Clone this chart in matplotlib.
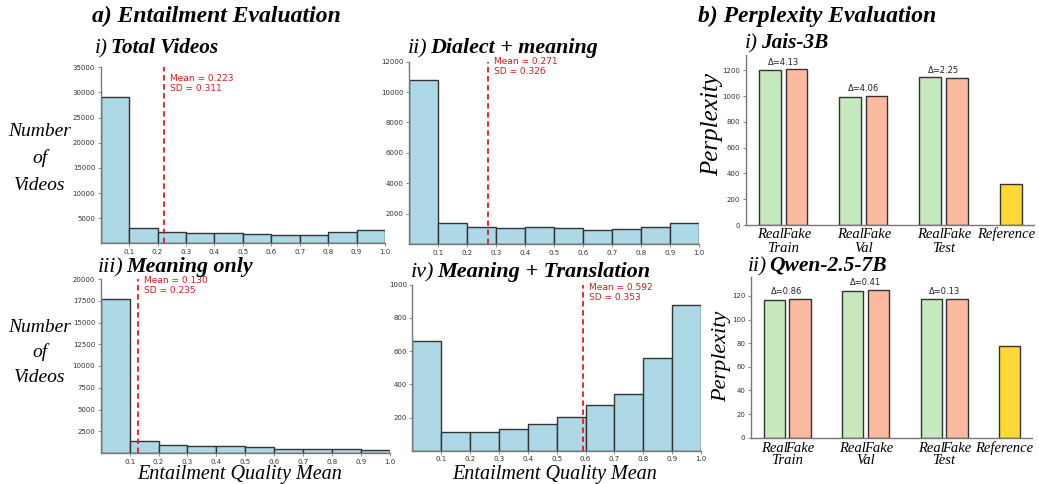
import matplotlib
matplotlib.use("Agg")
import matplotlib.pyplot as plt
import numpy as np
from matplotlib.transforms import blended_transform_factory

W, H = 1039, 484
fig = plt.figure(figsize=(W / 100, H / 100), dpi=100)

SERIF = "Liberation Serif"

# ---------------- data ----------------
bin_edges = [0.0, 0.1, 0.2, 0.3, 0.4, 0.5, 0.6, 0.7, 0.8, 0.9, 1.0]
total_counts = [29170, 3010, 2220, 2020, 2020, 1890, 1690, 1750, 2220, 2680]
dialect_counts = [10770, 1360, 1096, 1030, 1096, 1030, 920, 965, 1118, 1360]
meaning_counts = [17680, 1416, 918, 842, 765, 650, 459, 421, 421, 344]
translation_counts = [658, 114, 110, 128, 158, 206, 278, 339, 556, 877]
hist_means = [0.223, 0.271, 0.130, 0.592]
hist_sds = [0.311, 0.326, 0.235, 0.353]
hist_prefixes = ["i)", "ii)", "iii)", "iv)"]
hist_titles = ["Total Videos", "Dialect + meaning", "Meaning only", "Meaning + Translation"]

splits = ["Train", "Val", "Test"]
jais_real = [1205, 996, 1146]
jais_fake = [1209, 1000, 1143]
jais_ref = 321
jais_delta = ["4.13", "4.06", "2.25"]
qwen_real = [116.3, 124.5, 117.2]
qwen_fake = [117.2, 124.8, 117.3]
qwen_ref = 77.4
qwen_delta = ["0.86", "0.41", "0.13"]


def px_axes(l, t, r, b):
    return fig.add_axes([l / W, 1 - b / H, (r - l) / W, (b - t) / H])


def ftext(x, y, s, **kw):
    return fig.text(x / W, 1 - y / H, s, **kw)


renderer = fig.canvas.get_renderer()


def mixed_title(x_left, y_base, prefix, rest, size):
    t1 = ftext(x_left, y_base, prefix, family=SERIF, style="italic",
               fontsize=size, va="baseline", ha="left")
    bb = t1.get_window_extent(renderer=renderer)
    gap = 0.12 * size * 100 / 72
    fig.text((bb.x1 + gap) / W, 1 - y_base / H, rest, family=SERIF, style="italic",
             weight="bold", fontsize=size, va="baseline", ha="left")


def style_axes(ax):
    for s in ["top", "right"]:
        ax.spines[s].set_visible(False)
    for s in ["left", "bottom"]:
        ax.spines[s].set_color("#777777")
        ax.spines[s].set_linewidth(1.0)
    ax.tick_params(axis="both", length=2, width=0.6, color="#777777",
                   labelsize=5, labelcolor="#333333", pad=2)


# ---------------- histograms ----------------
hist_boxes = [(100.7, 67.3, 385, 243.3), (409.3, 61.7, 699, 244),
              (100.7, 279, 390, 453), (412.3, 284.7, 701, 450.7)]
hist_counts = [total_counts, dialect_counts, meaning_counts, translation_counts]
hist_ylims = [35000, 12000, 20000, 1000]
hist_yticks = [np.arange(5000, 35001, 5000), np.arange(2000, 12001, 2000),
               np.arange(2500, 20001, 2500), np.arange(200, 1001, 200)]
text_tops = [0.962, 1.027, 1.017, 1.008]

for i in range(4):
    ax = px_axes(*hist_boxes[i])
    ax.hist(bin_edges[:-1], bins=bin_edges, weights=hist_counts[i],
            color="#add8e6", edgecolor="#333333", linewidth=1.0)
    ax.set_xlim(0, 1)
    ax.set_ylim(0, hist_ylims[i])
    ax.set_xticks(np.round(np.arange(0.1, 1.01, 0.1), 1))
    ax.set_yticks(hist_yticks[i])
    style_axes(ax)
    m = hist_means[i]
    ax.axvline(m, color="#e41a1c", linestyle="--", linewidth=1.3, dashes=(3, 2))
    tr = blended_transform_factory(ax.transData, ax.transAxes)
    ax.text(m + 0.021, text_tops[i], f"Mean = {m:.3f}\nSD = {hist_sds[i]:.3f}",
            transform=tr, color="#d7191c", fontsize=6.5, va="top", ha="left",
            linespacing=1.15, clip_on=False)


# ---------------- bar charts ----------------
def bar_panel(box, real, fake, ref, deltas, ylim, yticks, xlim, refpos,
              lab_off, grp_off):
    ax = px_axes(*box)
    x = np.arange(len(real))
    off = 0.165
    bw = 0.27
    ax.bar(x - off, real, bw, color="#c7e9c0", edgecolor="#333333", linewidth=1.0)
    ax.bar(x + off, fake, bw, color="#fcbba1", edgecolor="#333333", linewidth=1.0)
    ax.bar([refpos], [ref], bw, color="#fdd835", edgecolor="#333333", linewidth=1.0)
    for xi, r, f, d in zip(x, real, fake, deltas):
        ax.annotate("\u0394=" + d, (xi, max(r, f)), xytext=(0, 2),
                    textcoords="offset points", ha="center", va="bottom",
                    fontsize=6, color="#222222")
    ax.set_ylim(0, ylim)
    ax.set_xlim(*xlim)
    ax.set_yticks(yticks)
    ax.set_xticks(list(x - off) + list(x + off) + [refpos])
    ax.set_xticklabels([])
    style_axes(ax)
    ax.tick_params(axis="x", length=0)
    tr = blended_transform_factory(ax.transData, ax.transAxes)
    kw = dict(xycoords=tr, textcoords="offset pixels", ha="center", va="baseline",
              fontsize=10.5, family=SERIF, style="italic")
    for xi in x:
        ax.annotate("Real", (xi - off, 0), xytext=(0, -lab_off), **kw)
        ax.annotate("Fake", (xi + off, 0), xytext=(0, -lab_off), **kw)
        ax.annotate(splits[xi], (xi, 0), xytext=(0, -grp_off), **kw)
    ax.annotate("Reference", (refpos, 0), xytext=(-5, -lab_off), **kw)
    return ax


bar_panel((745.7, 55, 1034, 225), jais_real, jais_fake, jais_ref, jais_delta,
          1320, np.arange(0, 1201, 200), (-0.47, 3.13), 2.84, 13, 27)
bar_panel((751, 277, 1032, 437.7), qwen_real, qwen_fake, qwen_ref, qwen_delta,
          136, np.arange(0, 121, 20), (-0.46, 3.12), 2.83, 14, 26)

# ---------------- titles and labels ----------------
bi = dict(family=SERIF, weight="bold", style="italic", color="black")
ftext(92, 22, "a) Entailment Evaluation", fontsize=17, ha="left", va="baseline", **bi)
ftext(698, 22, "b) Perplexity Evaluation", fontsize=17, ha="left", va="baseline", **bi)

mixed_title(95, 53, hist_prefixes[0], hist_titles[0], 15.3)
mixed_title(408, 53, hist_prefixes[1], hist_titles[1], 15.8)
mixed_title(98, 272, hist_prefixes[2], hist_titles[2], 15.8)
mixed_title(411, 277, hist_prefixes[3], hist_titles[3], 16)
mixed_title(745, 48, "i)", "Jais-3B", 15.3)
mixed_title(748, 271, "ii)", "Qwen-2.5-7B", 15.5)

it = dict(family=SERIF, style="italic", color="black", ha="center", va="center")
for yy, s in [(132, "Number"), (158, "of"), (185, "Videos"),
              (327, "Number"), (352, "of"), (377, "Videos")]:
    ftext(40, yy, s, fontsize=14, **it)

itb = dict(family=SERIF, style="italic", color="black", ha="center", va="baseline")
ftext(240, 479, "Entailment Quality Mean", fontsize=14.5, **itb)
ftext(555, 479, "Entailment Quality Mean", fontsize=14.5, **itb)

ftext(712, 124, "Perplexity", fontsize=18, rotation=90, **it)
ftext(722, 356, "Perplexity", fontsize=16, rotation=90, **it)

fig.savefig("out.png", dpi=100)
